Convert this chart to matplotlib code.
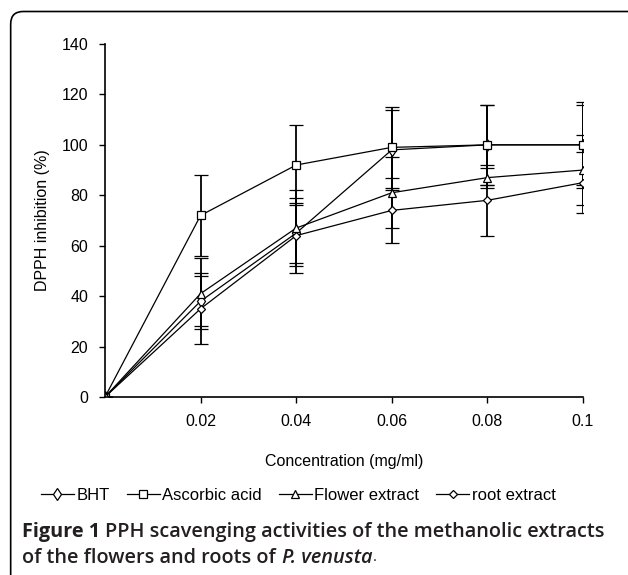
import matplotlib.pyplot as plt
from matplotlib.patches import FancyBboxPatch
from matplotlib.lines import Line2D

# data
conc = [0, 0.02, 0.04, 0.06, 0.08, 0.1]
bht = [0, 38, 65, 98, 100, 100]
bht_err = [0, 10, 12, 16, 16, 16]
ascorbic = [0, 72, 92, 99, 100, 100]
ascorbic_err = [0, 16, 16, 16, 16, 17]
flower = [0, 41, 67, 81, 87, 90]
flower_err = [0, 14, 15, 14, 4, 14]
root = [0, 35, 64, 74, 78, 85]
root_err = [0, 14, 15, 13, 14, 12]

plt.rcParams['font.family'] = ['Liberation Sans', 'DejaVu Sans']

fig = plt.figure(figsize=(6.28, 5.75), dpi=100)

# rounded frame (only top/left visible in the original)
box = FancyBboxPatch((0.017, -0.05), 1.2, 1.03, boxstyle="round,pad=0,rounding_size=0.02",
                     transform=fig.transFigure, fill=False, edgecolor='black', linewidth=1.2,
                     mutation_aspect=628 / 575)
fig.patches.append(box)

ax = fig.add_axes([0.1672, 0.3096, 0.7611, 0.6139])

series = [
    ('BHT', bht, bht_err, 'd', 6),
    ('Ascorbic acid', ascorbic, ascorbic_err, 's', 6),
    ('Flower extract', flower, flower_err, '^', 6),
    ('root extract', root, root_err, 'D', 4.5),
]
handles = []
for name, vals, err, mk, ms in series:
    ax.errorbar(conc, vals, yerr=err, color='black', linewidth=0.9, elinewidth=1.3,
                capsize=5, capthick=1.3, marker=mk, markersize=ms,
                markerfacecolor='white', markeredgecolor='black', markeredgewidth=0.9)
    handles.append(Line2D([], [], color='black', linewidth=0.9, marker=mk, markersize=ms,
                          markerfacecolor='white', markeredgecolor='black',
                          markeredgewidth=0.9, label=name))

ax.set_xlim(0, 0.1)
ax.set_ylim(0, 140)
ax.set_xticks([0.02, 0.04, 0.06, 0.08, 0.1])
ax.set_xticklabels(['0.02', '0.04', '0.06', '0.08', '0.1'])
ax.set_yticks(range(0, 141, 20))
for s in ['top', 'right']:
    ax.spines[s].set_visible(False)
ax.spines['left'].set_linewidth(1.2)
ax.spines['bottom'].set_linewidth(1.2)
ax.tick_params(direction='out', length=4, width=1, labelsize=11.5, pad=8)
ax.set_xlabel('Concentration (mg/ml)', fontsize=11.5, labelpad=18)
ax.set_ylabel('DPPH inhibition (%)', fontsize=11.5, labelpad=8)

fig.legend(handles=handles, loc='center', bbox_to_anchor=(0.475, 0.138), ncol=4,
           frameon=False, fontsize=12, handlelength=2.0, handletextpad=0.15,
           columnspacing=1.0)

# caption: bold lead then the rest
cap_kw = dict(family='Open Sans', weight='bold', va='center', color='#231f20', fontsize=14.3)
y1, y2 = 0.074, 0.030
t1 = fig.text(0.035, y1, 'Figure 1', **cap_kw)
fig.canvas.draw()
bb = t1.get_window_extent()
fig.text((bb.x1 + 5) / fig.bbox.width, y1,
         'PPH scavenging activities of the methanolic extracts',
         **{**cap_kw, 'weight': 'semibold'})
t3 = fig.text(0.035, y2, 'of the flowers and roots of', **{**cap_kw, 'weight': 'semibold'})
fig.canvas.draw()
bb3 = t3.get_window_extent()
t4 = fig.text((bb3.x1 + 6) / fig.bbox.width, y2, 'P. venusta',
              **{**cap_kw, 'weight': 'semibold', 'style': 'italic'})
fig.canvas.draw()
bb4 = t4.get_window_extent()
fig.text((bb4.x1 + 1) / fig.bbox.width, y2, '.',
         **{**cap_kw, 'weight': 'normal', 'fontsize': 11})

fig.savefig('out.png', dpi=100)
